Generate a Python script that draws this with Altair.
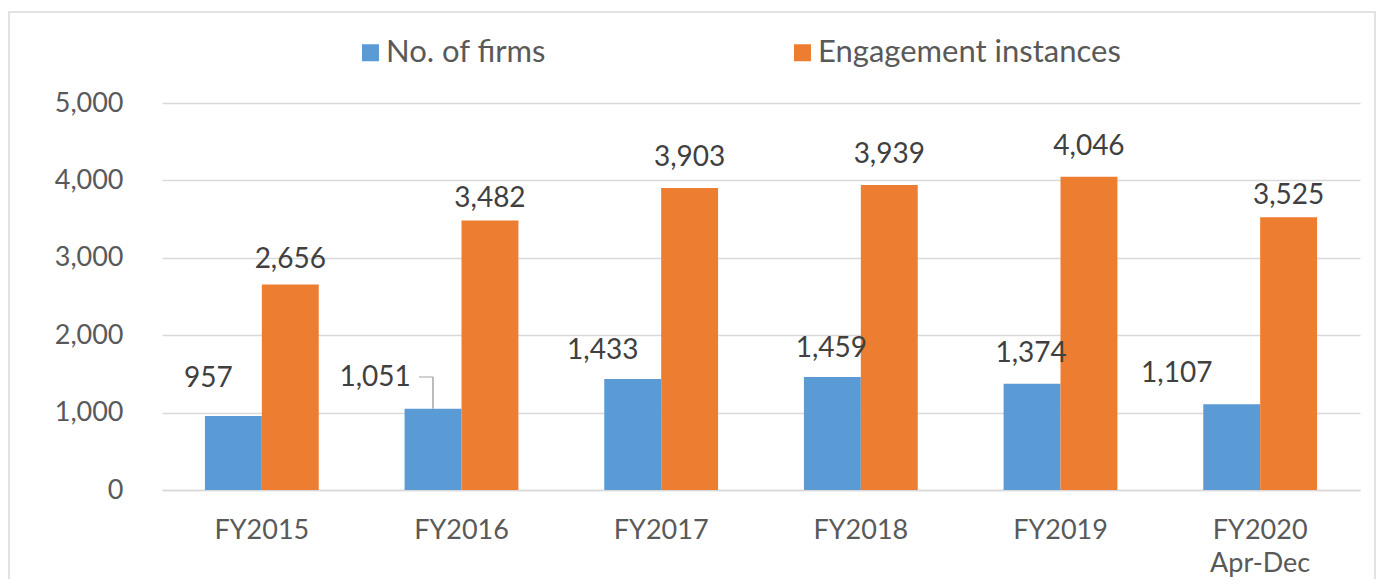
import altair as alt
import pandas as pd

categories = ["FY2015", "FY2016", "FY2017", "FY2018", "FY2019", "FY2020 Apr-Dec"]
firms = [957, 1051, 1433, 1459, 1374, 1107]
engagements = [2656, 3482, 3903, 3939, 4046, 3525]
series_names = ["No. of firms", "Engagement instances"]
series_colors = ["#5B9BD5", "#ED7D31"]

# manual data-label nudges (pixels), as placed in the original chart
firms_label_dx = [-25, -58, -30, -1, -1, -55]
firms_label_dy = [-37, -31, -28, -28, -30, -30]
eng_label_dx = [0, 0, 0, 0, 0, 0]
eng_label_dy = [-24, -21, -30, -30, -30, -21]

# leader line for the FY2016 firms label
leader_category = ["FY2016"]
leader_from = [1051]
leader_to = [1460]

rows = []
for i, c in enumerate(categories):
    rows.append({"category": c, "series": series_names[0], "value": firms[i],
                 "dx": firms_label_dx[i], "dy": firms_label_dy[i]})
    rows.append({"category": c, "series": series_names[1], "value": engagements[i],
                 "dx": eng_label_dx[i], "dy": eng_label_dy[i]})
df = pd.DataFrame(rows)
leader_df = pd.DataFrame({"category": leader_category, "v1": leader_from, "v2": leader_to})

FONT = "Lato"
TXT = "#595959"
GRID = "#d9d9d9"

x_scale = alt.Scale(domain=categories, paddingInner=0.43, paddingOuter=0.215)
y_scale = alt.Scale(domain=[0, 5000])
color_scale = alt.Scale(domain=series_names, range=series_colors)
off_scale = alt.Scale(domain=series_names, paddingInner=0, paddingOuter=0)

x_axis = alt.Axis(title=None, labelAngle=0, labelFontSize=27, labelColor=TXT, labelFont=FONT,
                  labelPadding=27, ticks=False, domain=True, domainColor=GRID, domainWidth=1.5,
                  labelExpr="split(datum.label, ' ')", labelLineHeight=33, grid=False)
y_axis = alt.Axis(title=None, values=[0, 1000, 2000, 3000, 4000, 5000],
                  labelExpr="format(datum.value, ',')",
                  labelFontSize=27, labelColor=TXT, labelFont=FONT, labelPadding=39,
                  ticks=False, domain=False, grid=True, gridColor=GRID, gridWidth=1.5)

base = alt.Chart(df)

bars = base.mark_bar().encode(
    x=alt.X("category:N", scale=x_scale, axis=x_axis, sort=categories),
    xOffset=alt.XOffset("series:N", sort=series_names, scale=off_scale),
    y=alt.Y("value:Q", scale=y_scale, axis=y_axis),
    color=alt.Color("series:N", scale=color_scale, sort=series_names,
                    legend=alt.Legend(title=None, orient="none", legendX=193, legendY=-66,
                                      direction="horizontal", symbolType="square",
                                      symbolSize=289, symbolStrokeWidth=0,
                                      labelFontSize=31, labelColor=TXT, labelFont=FONT,
                                      labelLimit=500, labelOffset=0, columnPadding=240)),
)

labels = base.mark_text(fontSize=28, font=FONT, color="#404040", baseline="middle", align="center",
                        dx=alt.ExprRef(expr="datum.dx"), dy=alt.ExprRef(expr="datum.dy")).encode(
    x=alt.X("category:N", scale=x_scale, sort=categories, axis=x_axis),
    xOffset=alt.XOffset("series:N", sort=series_names, scale=off_scale),
    y=alt.Y("value:Q", scale=y_scale, axis=y_axis),
    text=alt.Text("value:Q", format=","),
)

leader_v = alt.Chart(leader_df).mark_rule(color="#a6a6a6", strokeWidth=1.5, xOffset=-28.5).encode(
    x=alt.X("category:N", scale=x_scale, sort=categories, axis=x_axis),
    y=alt.Y("v1:Q", scale=y_scale, axis=y_axis),
    y2="v2:Q",
)
leader_h = alt.Chart(leader_df).mark_tick(color="#a6a6a6", thickness=1.5, size=14, orient="horizontal",
                                          xOffset=-35.5).encode(
    x=alt.X("category:N", scale=x_scale, sort=categories, axis=x_axis),
    y=alt.Y("v2:Q", scale=y_scale, axis=y_axis),
)

border = alt.Chart(alt.Data(values=[{"b": 1}])).mark_rect(
    fill="transparent", stroke=GRID, strokeWidth=1.5).encode(
    x=alt.value(-153), x2=alt.value(1213), y=alt.value(-91), y2=alt.value(600))

chart = alt.layer(bars, border, leader_v, leader_h, labels).properties(
    width=1198, height=387,
    autosize=alt.AutoSizeParams(type="none"),
    padding={"left": 154, "top": 95, "right": 16, "bottom": 89},
    background="white",
).configure(font=FONT).configure_view(stroke=None)

chart.save("out.html", embed_options={"renderer": "svg", "actions": False})
